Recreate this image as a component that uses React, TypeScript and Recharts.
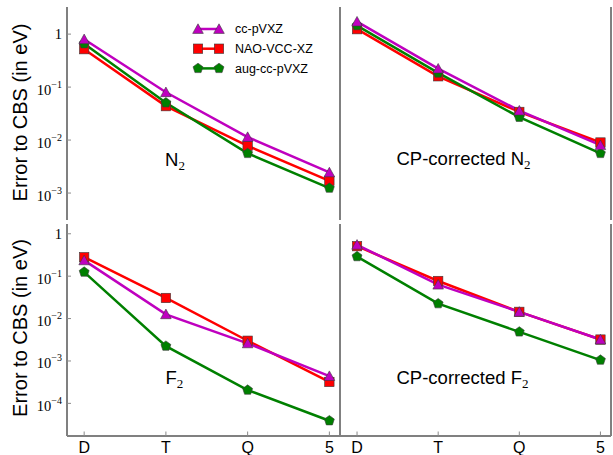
import React from "react";
import { LineChart, Line, XAxis, YAxis, Legend } from "recharts";

const W = 613;
const H = 455;

// basis-set cardinal number -> label on the x axis
const basisLabels = ["D", "T", "Q", "5"];
const cardinal = [2, 3, 4, 5];

// N2
const n2Cc = [0.8, 0.08, 0.0114, 0.00245];
const n2Nao = [0.52, 0.0437, 0.0078, 0.0017];
const n2Aug = [0.66, 0.0506, 0.0056, 0.00124];
// CP-corrected N2
const cpN2Cc = [1.72, 0.223, 0.036, 0.008];
const cpN2Nao = [1.24, 0.16, 0.034, 0.009];
const cpN2Aug = [1.45, 0.185, 0.027, 0.0056];
// F2
const f2Cc = [0.236, 0.0126, 0.0026, 0.00044];
const f2Nao = [0.28, 0.0306, 0.003, 0.00032];
const f2Aug = [0.125, 0.00224, 0.000206, 0.000039];
// CP-corrected F2
const cpF2Cc = [0.55, 0.063, 0.0144, 0.0032];
const cpF2Nao = [0.51, 0.077, 0.0144, 0.0032];
const cpF2Aug = [0.29, 0.0225, 0.00485, 0.00105];

const topTicks = [1e-3, 1e-2, 1e-1, 1];
const bottomTicks = [1e-4, 1e-3, 1e-2, 1e-1, 1];
const topDomain = [3.1e-4, 3.25];
const bottomDomain = [1.7e-5, 1.7];
const xDomain = [1.79, 5.13];

type Shape = "triangle" | "square" | "pentagon";

// drawn in this order (magenta ends up on top)
const seriesStyle: { key: string; name: string; color: string; shape: Shape }[] = [
  { key: "nao", name: "NAO-VCC-XZ", color: "#ff0000", shape: "square" },
  { key: "aug", name: "aug-cc-pVXZ", color: "#008000", shape: "pentagon" },
  { key: "cc", name: "cc-pVXZ", color: "#bf00bf", shape: "triangle" },
];
const legendOrder = ["cc", "nao", "aug"];

const buildRows = (cc: number[], nao: number[], aug: number[]) =>
  cardinal.map((z, i) => ({ z, cc: cc[i], nao: nao[i], aug: aug[i] }));

const spine = { stroke: "#808080", strokeWidth: 2 };
const tickStyle = { stroke: "#8a8a8a", strokeWidth: 1 };
const sans = "'Liberation Sans', Arial, sans-serif";
const serif = "'Liberation Serif', 'Times New Roman', serif";

function Marker({ shape, cx, cy, color }: { shape: Shape; cx: number; cy: number; color: string }) {
  const edge = "#3a3a3a";
  if (shape === "triangle") {
    const pts = `${cx},${cy - 5.2} ${cx - 5.3},${cy + 4.4} ${cx + 5.3},${cy + 4.4}`;
    return <polygon points={pts} fill={color} stroke={edge} strokeWidth={0.6} />;
  }
  if (shape === "square") {
    return <rect x={cx - 4.7} y={cy - 4.7} width={9.4} height={9.4} fill={color} stroke={edge} strokeWidth={0.6} />;
  }
  const pts = [0, 1, 2, 3, 4]
    .map((k) => {
      const a = -Math.PI / 2 + (k * 2 * Math.PI) / 5;
      return `${cx + 5.2 * Math.cos(a)},${cy + 5.2 * Math.sin(a)}`;
    })
    .join(" ");
  return <polygon points={pts} fill={color} stroke={edge} strokeWidth={0.6} />;
}

function YTick(props: any) {
  const { x, y, payload } = props;
  const e = Math.round(Math.log10(payload.value));
  if (e === 0) {
    return (
      <text x={x} y={y + 4.8} textAnchor="end" fontFamily={serif} fontSize={14.5} fill="#000">
        1
      </text>
    );
  }
  return (
    <text x={x} y={y + 7.5} textAnchor="end" fontFamily={serif} fontSize={14.5} fill="#000">
      10
      <tspan fontSize={10} dy={-7}>
        {"\u2212" + -e}
      </tspan>
    </text>
  );
}

function XTick(props: any) {
  const { x, y, payload } = props;
  const label = basisLabels[cardinal.indexOf(payload.value)];
  return (
    <text x={x} y={y} dy="0.71em" textAnchor="middle" fontFamily={sans} fontSize={16} fill="#000">
      {label}
    </text>
  );
}

const legendContent = () => {
  const byKey = Object.fromEntries(seriesStyle.map((s) => [s.key, s]));
  return (
    <svg width={170} height={66} style={{ display: "block" }}>
      {legendOrder.map((k, i) => {
        const s = byKey[k];
        const y = 11 + i * 19.7;
        return (
          <g key={k}>
            <line x1={13} x2={34} y1={y} y2={y} stroke={s.color} strokeWidth={2.5} />
            <Marker shape={s.shape} cx={13} cy={y} color={s.color} />
            <Marker shape={s.shape} cx={34} cy={y} color={s.color} />
            <text x={50} y={y + 4.3} fontFamily={sans} fontSize={12.5} fill="#000">
              {s.name}
            </text>
          </g>
        );
      })}
    </svg>
  );
};

interface PanelProps {
  rows: any[];
  box: [number, number, number, number]; // left, top, right, bottom of the plot area
  yDomain: number[];
  yTicks: number[];
  yLabels: boolean;
  xLabels: boolean;
  legend?: boolean;
}

function Panel({ rows, box, yDomain, yTicks, yLabels, xLabels, legend }: PanelProps) {
  const [l, t, r, b] = box;
  return (
    <div style={{ position: "absolute", left: 0, top: 0 }}>
      <LineChart
        width={W}
        height={H}
        data={rows}
        margin={{ top: t, right: W - r - 1, bottom: xLabels ? 0 : H - b, left: yLabels ? 0 : l }}
      >
        <XAxis
          dataKey="z"
          type="number"
          domain={xDomain}
          ticks={cardinal}
          interval={0}
          allowDataOverflow
          height={xLabels ? H - b : 0}
          tickSize={-4.5}
          tickMargin={10}
          tick={xLabels ? (p: any) => <XTick {...p} /> : false}
          tickLine={tickStyle}
          axisLine={spine}
        />
        <XAxis
          xAxisId="top"
          orientation="top"
          mirror
          height={0}
          type="number"
          domain={xDomain}
          allowDataOverflow
          tick={false}
          tickLine={false}
          axisLine={spine}
        />
        <YAxis
          type="number"
          scale="log"
          domain={yDomain}
          allowDataOverflow
          ticks={yTicks}
          interval={0}
          width={yLabels ? l : 0}
          tickSize={-4}
          tickMargin={9}
          tick={yLabels ? (p: any) => <YTick {...p} /> : false}
          tickLine={yLabels ? tickStyle : false}
          axisLine={spine}
        />
        <YAxis
          yAxisId="right"
          orientation="right"
          width={1}
          type="number"
          domain={[0, 1]}
          tick={false}
          tickLine={false}
          axisLine={spine}
        />
        {seriesStyle.map((s) => (
          <Line
            key={s.key}
            type="linear"
            dataKey={s.key}
            name={s.name}
            stroke={s.color}
            strokeWidth={2.5}
            isAnimationActive={false}
            dot={(p: any) => (
              <Marker key={`${s.key}-${p.index}`} shape={s.shape} cx={p.cx} cy={p.cy} color={s.color} />
            )}
            activeDot={false}
          />
        ))}
        {legend && (
          <Legend
            layout="vertical"
            align="center"
            verticalAlign="middle"
            content={legendContent}
            wrapperStyle={{ left: 185, top: 18, width: 170, height: 66, bottom: "auto", right: "auto" }}
          />
        )}
      </LineChart>
    </div>
  );
}

function Annotations() {
  const yLabel = (cy: number) => (
    <text transform={`translate(27,${cy}) rotate(-90)`} textAnchor="middle" fontFamily={sans} fontSize={20} fill="#000">
      Error to CBS (in eV)
    </text>
  );
  const molecule = (x: number, y: number, text: string, atom: string) => (
    <text x={x} y={y} fontFamily={sans} fontSize={18.5} fill="#000">
      {text}
      {atom}
      <tspan fontFamily={serif} fontSize={13} dy={4}>
        2
      </tspan>
    </text>
  );
  return (
    <svg width={W} height={H} style={{ position: "absolute", left: 0, top: 0, pointerEvents: "none" }}>
      {yLabel(112.5)}
      {yLabel(328)}
      {molecule(165, 166, "", "N")}
      {molecule(396.5, 165, "CP-corrected ", "N")}
      {molecule(165.5, 383.5, "", "F")}
      {molecule(396.5, 383.5, "CP-corrected ", "F")}
    </svg>
  );
}

export default function App() {
  return (
    <div style={{ position: "absolute", left: 0, top: 0, width: W, height: H, background: "#fff" }}>
      <Panel rows={buildRows(n2Cc, n2Nao, n2Aug)} box={[67, 7, 340, 220]} yDomain={topDomain} yTicks={topTicks} yLabels xLabels={false} legend />
      <Panel rows={buildRows(cpN2Cc, cpN2Nao, cpN2Aug)} box={[340, 7, 611, 220]} yDomain={topDomain} yTicks={topTicks} yLabels={false} xLabels={false} />
      <Panel rows={buildRows(f2Cc, f2Nao, f2Aug)} box={[67, 224, 340, 436]} yDomain={bottomDomain} yTicks={bottomTicks} yLabels xLabels />
      <Panel rows={buildRows(cpF2Cc, cpF2Nao, cpF2Aug)} box={[340, 224, 611, 436]} yDomain={bottomDomain} yTicks={bottomTicks} yLabels={false} xLabels />
      <Annotations />
    </div>
  );
}
